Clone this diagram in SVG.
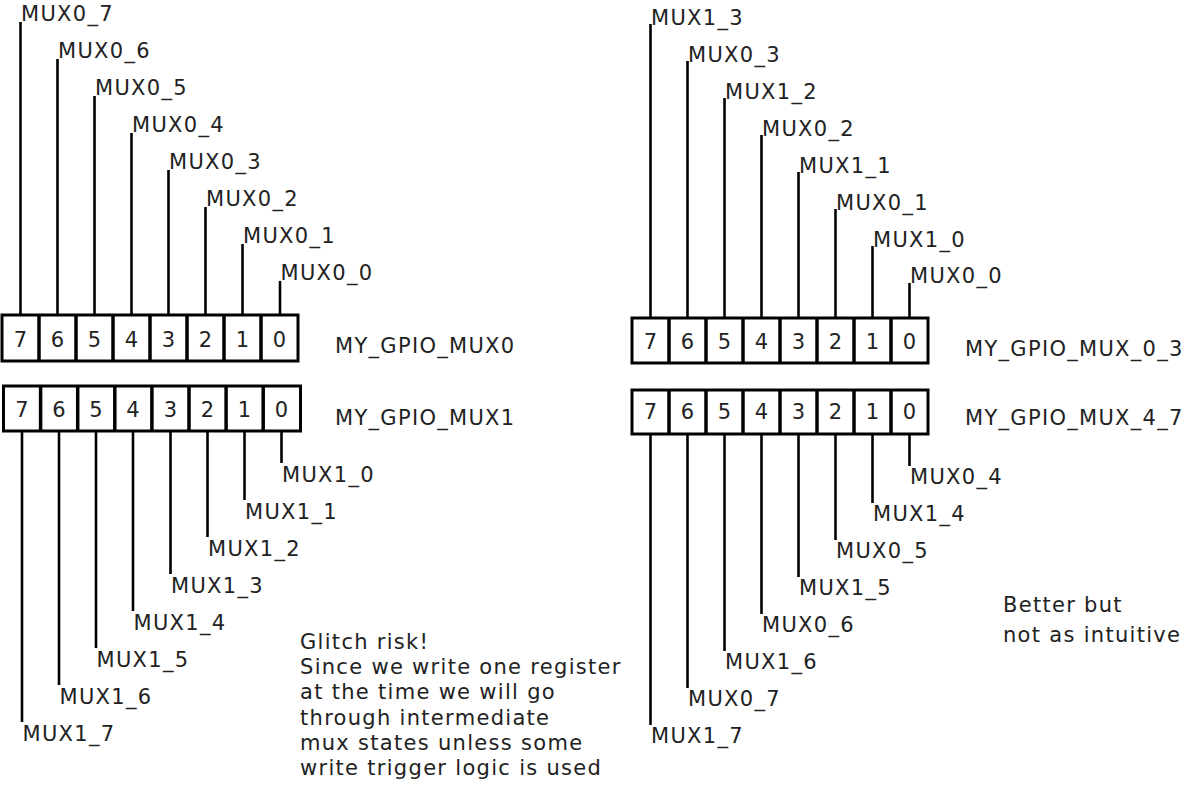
<svg xmlns="http://www.w3.org/2000/svg" width="1188" height="802" viewBox="0 0 1188 802">
  <style>
    .t { font-family: "DejaVu Sans", "Liberation Sans", sans-serif; font-size: 21px; fill: #222; letter-spacing: 1.3px; }
    .d { font-family: "DejaVu Sans", "Liberation Sans", sans-serif; font-size: 21px; fill: #222; text-anchor: middle; }
    .box { fill: #fff; stroke: #000; stroke-width: 3; }
    .div { stroke: #000; stroke-width: 3.5; }
    .wire { stroke: #000; stroke-width: 2.6; fill: none; }
  </style>
  <rect width="1188" height="802" fill="#fff"/>

  <!-- bit wires from registers to mux select labels -->
  <g id="connectors" class="wire">
    <!-- MY_GPIO_MUX0, upward -->
    <line x1="20.5" y1="22" x2="20.5" y2="315"/>
    <line x1="57.5" y1="59" x2="57.5" y2="315"/>
    <line x1="94.5" y1="96" x2="94.5" y2="315"/>
    <line x1="131.5" y1="133" x2="131.5" y2="315"/>
    <line x1="168.5" y1="170" x2="168.5" y2="315"/>
    <line x1="205.5" y1="207" x2="205.5" y2="315"/>
    <line x1="242.5" y1="244" x2="242.5" y2="315"/>
    <line x1="280" y1="281" x2="280" y2="315"/>
    <!-- MY_GPIO_MUX1, downward -->
    <line x1="22" y1="431" x2="22" y2="722"/>
    <line x1="59" y1="431" x2="59" y2="685"/>
    <line x1="96" y1="431" x2="96" y2="648"/>
    <line x1="133" y1="431" x2="133" y2="611"/>
    <line x1="170.5" y1="431" x2="170.5" y2="574"/>
    <line x1="207.5" y1="431" x2="207.5" y2="537"/>
    <line x1="244.5" y1="431" x2="244.5" y2="500"/>
    <line x1="281.5" y1="431" x2="281.5" y2="463"/>
    <!-- MY_GPIO_MUX_0_3, upward -->
    <line x1="650.5" y1="24" x2="650.5" y2="318"/>
    <line x1="687.5" y1="61" x2="687.5" y2="318"/>
    <line x1="724.5" y1="98" x2="724.5" y2="318"/>
    <line x1="761.5" y1="135" x2="761.5" y2="318"/>
    <line x1="798.5" y1="172" x2="798.5" y2="318"/>
    <line x1="835.5" y1="209" x2="835.5" y2="318"/>
    <line x1="872.5" y1="246" x2="872.5" y2="318"/>
    <line x1="909.5" y1="283" x2="909.5" y2="318"/>
    <!-- MY_GPIO_MUX_4_7, downward -->
    <line x1="650.5" y1="434" x2="650.5" y2="725"/>
    <line x1="687.5" y1="434" x2="687.5" y2="688"/>
    <line x1="724.5" y1="434" x2="724.5" y2="651"/>
    <line x1="761.5" y1="434" x2="761.5" y2="614"/>
    <line x1="798.5" y1="434" x2="798.5" y2="577"/>
    <line x1="835.5" y1="434" x2="835.5" y2="540"/>
    <line x1="872.5" y1="434" x2="872.5" y2="503"/>
    <line x1="909.5" y1="434" x2="909.5" y2="466"/>
  </g>

  <!-- register MY_GPIO_MUX0 -->
  <g id="reg-mux0">
    <rect class="box" x="2" y="315" width="296" height="46"/>
    <g class="div">
      <line x1="39" y1="315" x2="39" y2="361"/>
      <line x1="76" y1="315" x2="76" y2="361"/>
      <line x1="113" y1="315" x2="113" y2="361"/>
      <line x1="150" y1="315" x2="150" y2="361"/>
      <line x1="187" y1="315" x2="187" y2="361"/>
      <line x1="224" y1="315" x2="224" y2="361"/>
      <line x1="261" y1="315" x2="261" y2="361"/>
    </g>
    <text class="d" y="347"><tspan x="20.5">7</tspan><tspan x="57.5">6</tspan><tspan x="94.5">5</tspan><tspan x="131.5">4</tspan><tspan x="168.5">3</tspan><tspan x="205.5">2</tspan><tspan x="242.5">1</tspan><tspan x="279.5">0</tspan></text>
    <text class="t" x="335" y="353">MY_GPIO_MUX0</text>
  </g>

  <!-- register MY_GPIO_MUX1 -->
  <g id="reg-mux1">
    <rect class="box" x="3.5" y="386" width="297" height="45"/>
    <g class="div">
      <line x1="40.6" y1="386" x2="40.6" y2="431"/>
      <line x1="77.7" y1="386" x2="77.7" y2="431"/>
      <line x1="114.8" y1="386" x2="114.8" y2="431"/>
      <line x1="151.9" y1="386" x2="151.9" y2="431"/>
      <line x1="189" y1="386" x2="189" y2="431"/>
      <line x1="226.1" y1="386" x2="226.1" y2="431"/>
      <line x1="263.2" y1="386" x2="263.2" y2="431"/>
    </g>
    <text class="d" y="417"><tspan x="22">7</tspan><tspan x="59">6</tspan><tspan x="96">5</tspan><tspan x="133">4</tspan><tspan x="170.5">3</tspan><tspan x="207.5">2</tspan><tspan x="244.5">1</tspan><tspan x="281.5">0</tspan></text>
    <text class="t" x="335" y="425">MY_GPIO_MUX1</text>
  </g>

  <!-- register MY_GPIO_MUX_0_3 -->
  <g id="reg-mux03">
    <rect class="box" x="632" y="318" width="296" height="45"/>
    <g class="div">
      <line x1="669" y1="318" x2="669" y2="363"/>
      <line x1="706" y1="318" x2="706" y2="363"/>
      <line x1="743" y1="318" x2="743" y2="363"/>
      <line x1="780" y1="318" x2="780" y2="363"/>
      <line x1="817" y1="318" x2="817" y2="363"/>
      <line x1="854" y1="318" x2="854" y2="363"/>
      <line x1="891" y1="318" x2="891" y2="363"/>
    </g>
    <text class="d" y="349"><tspan x="650.5">7</tspan><tspan x="687.5">6</tspan><tspan x="724.5">5</tspan><tspan x="761.5">4</tspan><tspan x="798.5">3</tspan><tspan x="835.5">2</tspan><tspan x="872.5">1</tspan><tspan x="909.5">0</tspan></text>
    <text class="t" x="965" y="356">MY_GPIO_MUX_0_3</text>
  </g>

  <!-- register MY_GPIO_MUX_4_7 -->
  <g id="reg-mux47">
    <rect class="box" x="632" y="390" width="296" height="44"/>
    <g class="div">
      <line x1="669" y1="390" x2="669" y2="434"/>
      <line x1="706" y1="390" x2="706" y2="434"/>
      <line x1="743" y1="390" x2="743" y2="434"/>
      <line x1="780" y1="390" x2="780" y2="434"/>
      <line x1="817" y1="390" x2="817" y2="434"/>
      <line x1="854" y1="390" x2="854" y2="434"/>
      <line x1="891" y1="390" x2="891" y2="434"/>
    </g>
    <text class="d" y="419"><tspan x="650.5">7</tspan><tspan x="687.5">6</tspan><tspan x="724.5">5</tspan><tspan x="761.5">4</tspan><tspan x="798.5">3</tspan><tspan x="835.5">2</tspan><tspan x="872.5">1</tspan><tspan x="909.5">0</tspan></text>
    <text class="t" x="965" y="425">MY_GPIO_MUX_4_7</text>
  </g>

  <!-- mux select labels, first layout -->
  <g id="labels-mux0" class="t">
    <text x="21" y="21">MUX0_7</text>
    <text x="58" y="58">MUX0_6</text>
    <text x="95" y="95">MUX0_5</text>
    <text x="132" y="132">MUX0_4</text>
    <text x="169" y="169">MUX0_3</text>
    <text x="206" y="206">MUX0_2</text>
    <text x="243" y="243">MUX0_1</text>
    <text x="280.5" y="280">MUX0_0</text>
  </g>
  <g id="labels-mux1" class="t">
    <text x="282" y="482">MUX1_0</text>
    <text x="245" y="519">MUX1_1</text>
    <text x="208" y="556">MUX1_2</text>
    <text x="171" y="593">MUX1_3</text>
    <text x="133.5" y="630">MUX1_4</text>
    <text x="96.5" y="667">MUX1_5</text>
    <text x="59.5" y="704">MUX1_6</text>
    <text x="22.5" y="741">MUX1_7</text>
  </g>

  <!-- mux select labels, interleaved layout -->
  <g id="labels-mux03" class="t">
    <text x="651" y="25">MUX1_3</text>
    <text x="688" y="62">MUX0_3</text>
    <text x="725" y="99">MUX1_2</text>
    <text x="762" y="136">MUX0_2</text>
    <text x="799" y="173">MUX1_1</text>
    <text x="836" y="210">MUX0_1</text>
    <text x="873" y="247">MUX1_0</text>
    <text x="910" y="283">MUX0_0</text>
  </g>
  <g id="labels-mux47" class="t">
    <text x="910" y="484">MUX0_4</text>
    <text x="873" y="521">MUX1_4</text>
    <text x="836" y="558">MUX0_5</text>
    <text x="799" y="595">MUX1_5</text>
    <text x="762" y="632">MUX0_6</text>
    <text x="725" y="669">MUX1_6</text>
    <text x="688" y="706">MUX0_7</text>
    <text x="651" y="743">MUX1_7</text>
  </g>

  <!-- notes -->
  <g id="note-glitch" class="t">
    <text x="300" y="649">Glitch risk!</text>
    <text x="300" y="674">Since we write one register</text>
    <text x="300" y="699">at the time we will go</text>
    <text x="300" y="725">through intermediate</text>
    <text x="300" y="750">mux states unless some</text>
    <text x="300" y="775">write trigger logic is used</text>
  </g>
  <g id="note-better" class="t">
    <text x="1003" y="612">Better but</text>
    <text x="1003" y="642">not as intuitive</text>
  </g>
</svg>
